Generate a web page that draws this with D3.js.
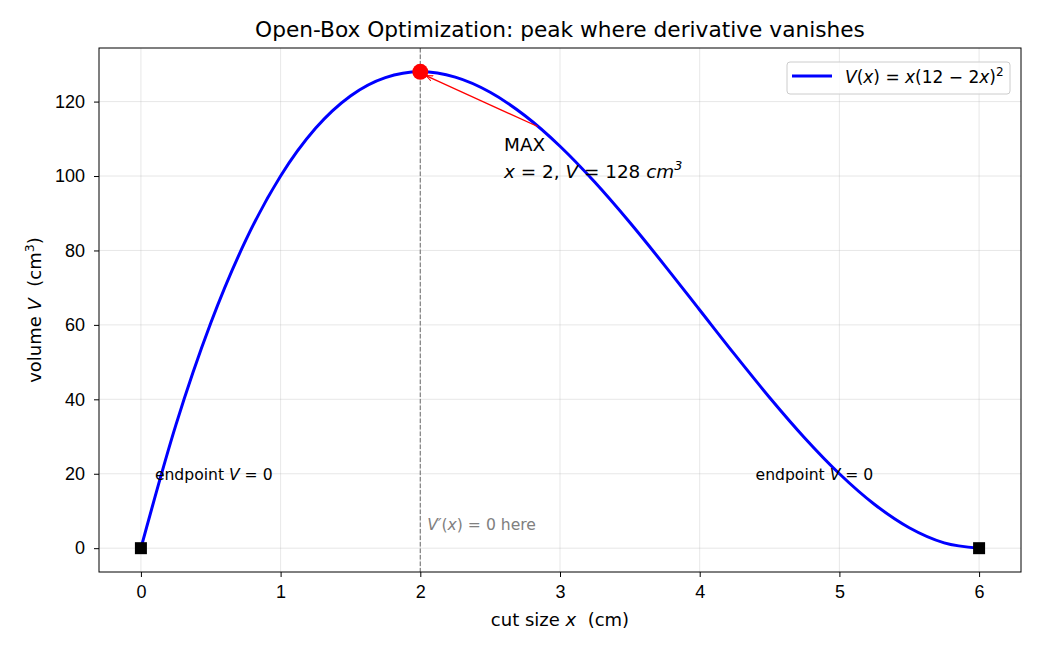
<!DOCTYPE html>
<meta charset="utf-8">
<style>
body { margin: 0; background: #fff; }
svg { font-family: "DejaVu Sans", sans-serif; }
svg text { white-space: pre; }
.grid line { stroke: #b0b0b0; stroke-opacity: 0.3; stroke-width: 1px; }
.axis text { font-size: 18px; fill: #000; }
.axis path, .axis line { stroke: #000; stroke-width: 1px; }
</style>
<svg width="1040" height="650"></svg>
<script src="https://d3js.org/d3.v7.min.js"></script>
<script>

// cut size x (cm) and box volume V (cm^3)
var xs = [0, 0.25, 0.5, 0.75, 1, 1.25, 1.5, 1.75, 2, 2.25, 2.5, 2.75, 3,
          3.25, 3.5, 3.75, 4, 4.25, 4.5, 4.75, 5, 5.25, 5.5, 5.75, 6];
var vs = [0, 33.06, 60.5, 82.69, 100, 112.81, 121.5, 126.44, 128, 126.56, 122.5, 116.19, 108,
          98.31, 87.5, 75.94, 64, 52.06, 40.5, 29.69, 20, 11.81, 5.5, 1.44, 0];

var xTicks = [0, 1, 2, 3, 4, 5, 6];
var yTicks = [0, 20, 40, 60, 80, 100, 120];

var peak = {x: 2, v: 128};
var endpoints = [{x: 0, v: 0}, {x: 6, v: 0}];

var svg = d3.select("svg");
var pL = 99, pR = 1021, pT = 48, pB = 572;

var x = d3.scaleLinear().domain([-0.3, 6.3]).range([pL, pR]);
var y = d3.scaleLinear().domain([-6.4, 134.4]).range([pB, pT]);

// grid
var grid = svg.append("g").attr("class", "grid");
grid.selectAll(".gx").data(xTicks).enter().append("line")
    .attr("x1", d => x(d)).attr("x2", d => x(d))
    .attr("y1", pT).attr("y2", pB);
grid.selectAll(".gy").data(yTicks).enter().append("line")
    .attr("x1", pL).attr("x2", pR)
    .attr("y1", d => y(d)).attr("y2", d => y(d));

// vertical marker at the critical point
svg.append("line")
    .attr("x1", x(peak.x)).attr("x2", x(peak.x))
    .attr("y1", pT).attr("y2", pB)
    .attr("stroke", "#808080").attr("stroke-width", 1.2)
    .attr("stroke-dasharray", "4.5,2");

// curve
var pts = xs.map((d, i) => [d, vs[i]]);
svg.append("path")
    .datum(pts)
    .attr("fill", "none")
    .attr("stroke", "#0000ff")
    .attr("stroke-width", 3)
    .attr("d", d3.line().x(d => x(d[0])).y(d => y(d[1])).curve(d3.curveMonotoneX));

// arrow annotation
svg.append("defs").append("marker")
    .attr("id", "ah").attr("viewBox", "0 0 10 10")
    .attr("refX", 10).attr("refY", 5)
    .attr("markerWidth", 7).attr("markerHeight", 7)
    .attr("markerUnits", "userSpaceOnUse")
    .attr("orient", "auto")
  .append("path")
    .attr("d", "M0,1 L10,5 L0,9")
    .attr("fill", "none").attr("stroke", "red").attr("stroke-width", 1.5);

svg.append("line")
    .attr("x1", x(2.84)).attr("y1", y(113.3))
    .attr("x2", x(2.04)).attr("y2", y(127))
    .attr("stroke", "red").attr("stroke-width", 1.3)
    .attr("marker-end", "url(#ah)");

// peak and endpoints
svg.append("circle")
    .attr("cx", x(peak.x)).attr("cy", y(peak.v)).attr("r", 8)
    .attr("fill", "red");
svg.selectAll(".ep").data(endpoints).enter().append("rect")
    .attr("x", d => x(d.x) - 6).attr("y", d => y(d.v) - 6)
    .attr("width", 12).attr("height", 12)
    .attr("fill", "#000");

// annotation texts
var ann = svg.append("text").attr("font-size", "18.4px").attr("fill", "#000");
ann.append("tspan").attr("x", x(2.6)).attr("y", y(106.7)).text("MAX");
var l2 = ann.append("tspan").attr("x", x(2.6)).attr("y", y(99.5));
l2.append("tspan").attr("font-style", "italic").text("x");
l2.append("tspan").text(" = 2, ");
l2.append("tspan").attr("font-style", "italic").text("V");
l2.append("tspan").text(" = 128 ");
l2.append("tspan").attr("font-style", "italic").text("cm");
l2.append("tspan").attr("font-style", "italic").attr("font-size", "12.8px").attr("dy", -8).text("3");

[0.1, 4.4].forEach(function(px) {
  var t = svg.append("text").attr("x", x(px)).attr("y", y(18.2))
      .attr("font-size", "15.6px").attr("fill", "#000");
  t.append("tspan").text("endpoint ");
  t.append("tspan").attr("font-style", "italic").text("V");
  t.append("tspan").text(" = 0");
});

var vt = svg.append("text").attr("x", x(2.05)).attr("y", y(5))
    .attr("font-size", "15.6px").attr("fill", "#808080");
vt.append("tspan").attr("font-style", "italic").text("V′");
vt.append("tspan").text("(");
vt.append("tspan").attr("font-style", "italic").text("x");
vt.append("tspan").text(") = 0 here");

// axes
svg.append("g").attr("class", "axis")
    .attr("transform", "translate(0," + pB + ")")
    .call(d3.axisBottom(x).tickValues(xTicks).tickSize(5).tickPadding(8).tickFormat(d3.format("d")))
    .call(g => g.select(".domain").remove());
svg.append("g").attr("class", "axis")
    .attr("transform", "translate(" + pL + ",0)")
    .call(d3.axisLeft(y).tickValues(yTicks).tickSize(5).tickPadding(9).tickFormat(d3.format("d")))
    .call(g => g.select(".domain").remove());

svg.append("rect")
    .attr("x", pL).attr("y", pT)
    .attr("width", pR - pL).attr("height", pB - pT)
    .attr("fill", "none").attr("stroke", "#000").attr("stroke-width", 1);

// title and labels
svg.append("text").attr("x", (pL + pR) / 2).attr("y", 37)
    .attr("text-anchor", "middle").attr("font-size", "21.7px")
    .text("Open-Box Optimization: peak where derivative vanishes");

var xl = svg.append("text").attr("x", (pL + pR) / 2).attr("y", 626)
    .attr("text-anchor", "middle").attr("font-size", "18px");
xl.append("tspan").text("cut size ");
xl.append("tspan").attr("font-style", "italic").text("x");
xl.append("tspan").text("  (cm)");

var yl = svg.append("text")
    .attr("transform", "translate(41," + (pT + pB) / 2 + ") rotate(-90)")
    .attr("text-anchor", "middle").attr("font-size", "18px");
yl.append("tspan").text("volume ");
yl.append("tspan").attr("font-style", "italic").text("V");
yl.append("tspan").text("  (cm");
yl.append("tspan").attr("font-size", "12.6px").attr("dy", -7).text("3");
yl.append("tspan").attr("dy", 7).text(")");

// legend
var lg = svg.append("g");
lg.append("rect").attr("x", 787).attr("y", 62).attr("width", 223).attr("height", 32)
    .attr("rx", 3).attr("fill", "#fff").attr("fill-opacity", 0.8)
    .attr("stroke", "#cccccc").attr("stroke-width", 1);
lg.append("line").attr("x1", 792).attr("x2", 832).attr("y1", 76).attr("y2", 76)
    .attr("stroke", "#0000ff").attr("stroke-width", 3);
var lt = lg.append("text").attr("x", 845).attr("y", 83).attr("font-size", "17px");
lt.append("tspan").attr("font-style", "italic").text("V");
lt.append("tspan").text("(");
lt.append("tspan").attr("font-style", "italic").text("x");
lt.append("tspan").text(") = ");
lt.append("tspan").attr("font-style", "italic").text("x");
lt.append("tspan").text("(12 − 2");
lt.append("tspan").attr("font-style", "italic").text("x");
lt.append("tspan").text(")");
lt.append("tspan").attr("font-size", "12px").attr("dy", -7).text("2");

</script>
